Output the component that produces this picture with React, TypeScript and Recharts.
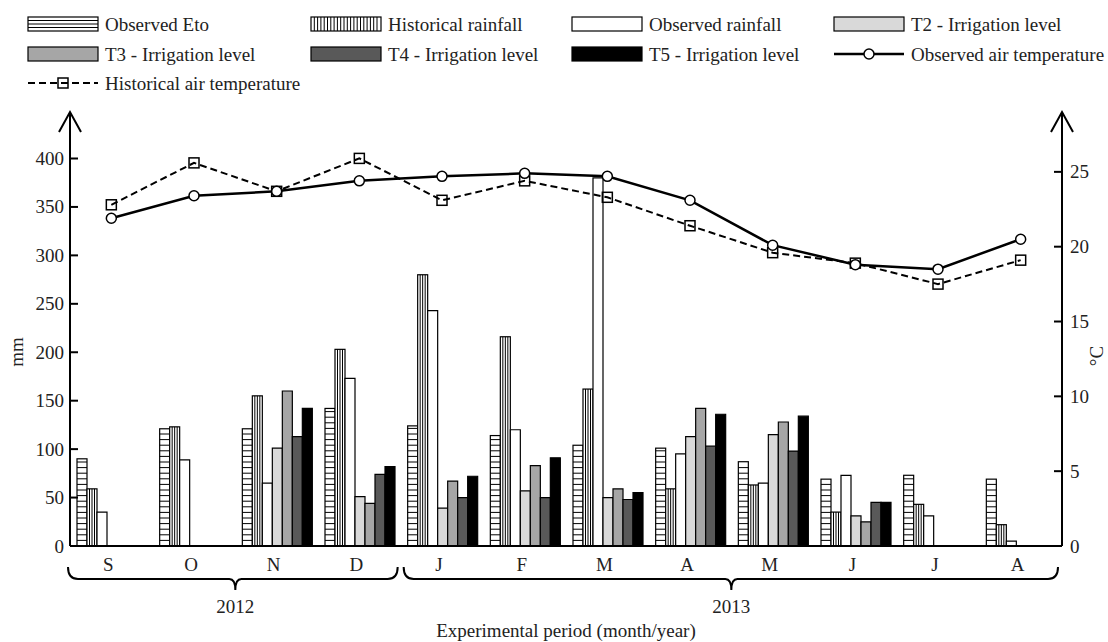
import React from 'react';
import { ComposedChart, Bar, Line, XAxis, YAxis, Legend, Customized } from 'recharts';

// ---------- data ----------
const months = ['S', 'O', 'N', 'D', 'J', 'F', 'M', 'A', 'M', 'J', 'J', 'A'];
const observedEto = [90, 121, 121, 142, 124, 114, 104, 101, 87, 69, 73, 69];
const historicalRainfall = [59, 123, 155, 203, 280, 216, 162, 59, 63, 35, 43, 22];
const observedRainfall = [35, 89, 65, 173, 243, 120, 380, 95, 65, 73, 31, 5];
const t2 = [null, null, 101, 51, 39, 57, 50, 113, 115, 31, null, null];
const t3 = [null, null, 160, 44, 67, 83, 59, 142, 128, 25, null, null];
const t4 = [null, null, 113, 74, 50, 50, 48, 103, 98, 45, null, null];
const t5 = [null, null, 142, 82, 72, 91, 55, 136, 134, 45, null, null];
const observedTemp = [21.9, 23.4, 23.7, 24.4, 24.7, 24.9, 24.7, 23.1, 20.1, 18.8, 18.5, 20.5];
const historicalTemp = [22.8, 25.6, 23.7, 25.9, 23.1, 24.4, 23.3, 21.4, 19.6, 18.9, 17.5, 19.1];

const years = ['2012', '2013'];
const yearFirstMonth = [0, 4];
const yearLastMonth = [3, 11];

const leftTicks = [0, 50, 100, 150, 200, 250, 300, 350, 400];
const rightTicks = [0, 5, 10, 15, 20, 25];

const seriesNames = {
  eto: 'Observed Eto',
  hist: 'Historical rainfall',
  obs: 'Observed rainfall',
  t2: 'T2 - Irrigation level',
  t3: 'T3 - Irrigation level',
  t4: 'T4 - Irrigation level',
  t5: 'T5 - Irrigation level',
  obsT: 'Observed air temperature',
  histT: 'Historical air temperature',
};

const data = months.map((m, i) => ({
  month: m,
  eto: observedEto[i],
  hist: historicalRainfall[i],
  obs: observedRainfall[i],
  t2: t2[i],
  t3: t3[i],
  t4: t4[i],
  t5: t5[i],
  obsT: observedTemp[i],
  histT: historicalTemp[i],
}));

// ---------- layout ----------
const W = 1108;
const H = 642;
const MARGIN = { top: 112, right: 6, bottom: 66, left: 30 };
const YW = 40;
const XH = 30;
const PL = MARGIN.left + YW;
const PR = W - MARGIN.right - YW;
const PT = MARGIN.top;
const PB = H - MARGIN.bottom - XH;
const BAND = (PR - PL) / months.length;
const FONT = '"Liberation Serif", "Times New Roman", serif';
const FS = 19;

const fills = { t2: '#d9d9d9', t3: '#a6a6a6', t4: '#595959', t5: '#000000', obs: '#ffffff' };

// ---------- shapes ----------
const EtoShape = (p: any) => {
  const { x, y, width, height } = p;
  if (!height || height <= 0) return null;
  const lines: any[] = [];
  for (let yy = y + height - 5.6; yy > y + 1.5; yy -= 5.6) {
    lines.push(<line key={yy} x1={x} x2={x + width} y1={yy} y2={yy} stroke="#000" strokeWidth={1} />);
  }
  return (
    <g>
      <rect x={x} y={y} width={width} height={height} fill="#fff" stroke="#000" strokeWidth={1.2} />
      {lines}
    </g>
  );
};

const HistShape = (p: any) => {
  const { x, y, width, height } = p;
  if (!height || height <= 0) return null;
  return (
    <g>
      <rect x={x} y={y} width={width} height={height} fill="#fff" stroke="#000" strokeWidth={1.2} />
      {[1, 2, 3].map((k) => (
        <line key={k} x1={x + (width * k) / 4} x2={x + (width * k) / 4} y1={y} y2={y + height} stroke="#000" strokeWidth={1} />
      ))}
    </g>
  );
};

const SquareDot = (p: any) => {
  const { cx, cy } = p;
  if (cx == null || cy == null) return null;
  return <rect x={cx - 5} y={cy - 5} width={10} height={10} fill="none" stroke="#000" strokeWidth={1.5} />;
};

// ---------- ticks ----------
const LeftTick = (p: any) => {
  const { x, y, payload } = p;
  return (
    <g>
      <line x1={x} x2={x + 8} y1={y} y2={y} stroke="#000" strokeWidth={2} />
      <text x={x - 6} y={y} textAnchor="end" dominantBaseline="central" fontSize={FS} fontFamily={FONT} fill="#222">
        {payload.value}
      </text>
    </g>
  );
};

const RightTick = (p: any) => {
  const { x, y, payload } = p;
  return (
    <g>
      <line x1={x - 8} x2={x} y1={y} y2={y} stroke="#000" strokeWidth={2} />
      <text x={x + 8} y={y} textAnchor="start" dominantBaseline="central" fontSize={FS} fontFamily={FONT} fill="#222">
        {payload.value}
      </text>
    </g>
  );
};

const MonthTick = (p: any) => {
  const { x, y, payload } = p;
  return (
    <text x={x - 3} y={y + 25} textAnchor="middle" fontSize={FS} fontFamily={FONT} fill="#222">
      {payload.value}
    </text>
  );
};

// ---------- legend ----------
const legendCols = [28, 311, 572, 834];
const legendRows = [24, 54, 83];
const legendOrder = ['eto', 'hist', 'obs', 't2', 't3', 't4', 't5', 'obsT', 'histT'];

const LegendSwatch = ({ k, x, y }: any) => {
  const w = 70;
  const h = 14;
  if (k === 'eto') {
    return (
      <g>
        <rect x={x} y={y - h / 2} width={w} height={h} fill="#fff" stroke="#000" strokeWidth={1.2} />
        {[1, 2, 3].map((i) => (
          <line key={i} x1={x} x2={x + w} y1={y - h / 2 + (h * i) / 4} y2={y - h / 2 + (h * i) / 4} stroke="#000" strokeWidth={1} />
        ))}
      </g>
    );
  }
  if (k === 'hist') {
    const ls: any[] = [];
    for (let xx = x + 3.3; xx < x + w - 1; xx += 3.3) {
      ls.push(<line key={xx} x1={xx} x2={xx} y1={y - h / 2} y2={y + h / 2} stroke="#000" strokeWidth={1} />);
    }
    return (
      <g>
        <rect x={x} y={y - h / 2} width={w} height={h} fill="#fff" stroke="#000" strokeWidth={1.2} />
        {ls}
      </g>
    );
  }
  if (k === 'obsT') {
    return (
      <g>
        <line x1={x} x2={x + w} y1={y} y2={y} stroke="#000" strokeWidth={2.5} />
        <circle cx={x + w / 2} cy={y} r={5} fill="#fff" stroke="#000" strokeWidth={1.5} />
      </g>
    );
  }
  if (k === 'histT') {
    return (
      <g>
        <line x1={x} x2={x + w} y1={y} y2={y} stroke="#000" strokeWidth={2} strokeDasharray="7 4" />
        <rect x={x + w / 2 - 5} y={y - 5} width={10} height={10} fill="none" stroke="#000" strokeWidth={1.5} />
      </g>
    );
  }
  return <rect x={x} y={y - h / 2} width={w} height={h} fill={(fills as any)[k]} stroke="#000" strokeWidth={1.2} />;
};

const LegendContent = () => (
  <svg width={W} height={100} style={{ display: 'block' }}>
    {legendOrder.map((k, i) => {
      const x = legendCols[i % 4];
      const y = legendRows[Math.floor(i / 4)];
      return (
        <g key={k}>
          <LegendSwatch k={k} x={x} y={y} />
          <text x={x + 77} y={y} dominantBaseline="central" fontSize={FS} fontFamily={FONT} fill="#222">
            {(seriesNames as any)[k]}
          </text>
        </g>
      );
    })}
  </svg>
);

// ---------- overlay: arrows, brackets, year labels, titles ----------
const Overlay = () => {
  const by = 579;
  const brackets = years.map((yr, i) => {
    const x0 = PL + yearFirstMonth[i] * BAND + (i === 0 ? -2 : 3);
    const x1 = PL + (yearLastMonth[i] + 1) * BAND + (i === years.length - 1 ? -4 : -3);
    const mid = (PL + yearFirstMonth[i] * BAND + PL + (yearLastMonth[i] + 1) * BAND) / 2;
    const d = `M ${x0} ${by - 12} Q ${x0} ${by} ${x0 + 10} ${by} L ${mid - 6} ${by} Q ${mid} ${by} ${mid} ${by + 11} Q ${mid} ${by} ${mid + 6} ${by} L ${x1 - 10} ${by} Q ${x1} ${by} ${x1} ${by - 12}`;
    return (
      <g key={yr}>
        <path d={d} fill="none" stroke="#000" strokeWidth={2} />
        <text x={mid} y={by + 27} textAnchor="middle" dominantBaseline="central" fontSize={FS} fontFamily={FONT} fill="#222">
          {yr}
        </text>
      </g>
    );
  });
  return (
    <g>
      <path d={`M ${PL - 11} ${PT + 20} L ${PL} ${PT} L ${PL + 11} ${PT + 20}`} fill="none" stroke="#000" strokeWidth={2} />
      <path d={`M ${PR - 11} ${PT + 20} L ${PR} ${PT} L ${PR + 11} ${PT + 20}`} fill="none" stroke="#000" strokeWidth={2} />
      {brackets}
      <text x={(PL + PR) / 2} y={630} textAnchor="middle" dominantBaseline="central" fontSize={FS} fontFamily={FONT} fill="#222">
        Experimental period (month/year)
      </text>
      <text x={16} y={352} textAnchor="middle" dominantBaseline="central" fontSize={FS} fontFamily={FONT} fill="#222" transform="rotate(-90 16 352)">
        mm
      </text>
      <text x={1096} y={356} textAnchor="middle" dominantBaseline="central" fontSize={FS} fontFamily={FONT} fill="#222" transform="rotate(-90 1096 356)">
        °C
      </text>
    </g>
  );
};

export default function App() {
  return (
    <div style={{ position: 'absolute', left: 0, top: 0, width: W, height: H, background: '#fff' }}>
      <ComposedChart width={W} height={H} data={data} margin={MARGIN} barGap={0} barCategoryGap={7}>
        <XAxis
          dataKey="month"
          height={XH}
          tickLine={false}
          tickSize={0}
          tickMargin={0}
          axisLine={{ stroke: '#000', strokeWidth: 2 }}
          tick={<MonthTick />}
          interval={0}
        />
        <YAxis
          yAxisId="left"
          orientation="left"
          width={YW}
          domain={[0, 448]}
          ticks={leftTicks}
          allowDataOverflow
          tickLine={false}
          tickSize={0}
          tickMargin={0}
          axisLine={{ stroke: '#000', strokeWidth: 2 }}
          tick={<LeftTick />}
          interval={0}
        />
        <YAxis
          yAxisId="right"
          orientation="right"
          width={YW}
          domain={[0, 29]}
          ticks={rightTicks}
          allowDataOverflow
          tickLine={false}
          tickSize={0}
          tickMargin={0}
          axisLine={{ stroke: '#000', strokeWidth: 2 }}
          tick={<RightTick />}
          interval={0}
        />
        <Legend
          layout="horizontal"
          verticalAlign="middle"
          align="center"
          wrapperStyle={{ top: 0, left: 0, width: W, height: 100 }}
          content={() => <LegendContent />}
        />
        <Bar yAxisId="left" dataKey="eto" name={seriesNames.eto} isAnimationActive={false} shape={(p: any) => <EtoShape {...p} />} />
        <Bar yAxisId="left" dataKey="hist" name={seriesNames.hist} isAnimationActive={false} shape={(p: any) => <HistShape {...p} />} />
        <Bar yAxisId="left" dataKey="obs" name={seriesNames.obs} isAnimationActive={false} fill={fills.obs} stroke="#000" strokeWidth={1.2} />
        <Bar yAxisId="left" dataKey="t2" name={seriesNames.t2} isAnimationActive={false} fill={fills.t2} stroke="#000" strokeWidth={1.2} />
        <Bar yAxisId="left" dataKey="t3" name={seriesNames.t3} isAnimationActive={false} fill={fills.t3} stroke="#000" strokeWidth={1.2} />
        <Bar yAxisId="left" dataKey="t4" name={seriesNames.t4} isAnimationActive={false} fill={fills.t4} stroke="#000" strokeWidth={1.2} />
        <Bar yAxisId="left" dataKey="t5" name={seriesNames.t5} isAnimationActive={false} fill={fills.t5} stroke="#000" strokeWidth={1.2} />
        <Line
          yAxisId="right"
          type="linear"
          dataKey="histT"
          name={seriesNames.histT}
          isAnimationActive={false}
          stroke="#000"
          strokeWidth={2}
          strokeDasharray="7 4"
          dot={<SquareDot />}
        />
        <Line
          yAxisId="right"
          type="linear"
          dataKey="obsT"
          name={seriesNames.obsT}
          isAnimationActive={false}
          stroke="#000"
          strokeWidth={2.5}
          dot={{ r: 5, fill: '#fff', stroke: '#000', strokeWidth: 1.5 }}
        />
        <Customized component={<Overlay />} />
      </ComposedChart>
    </div>
  );
}
